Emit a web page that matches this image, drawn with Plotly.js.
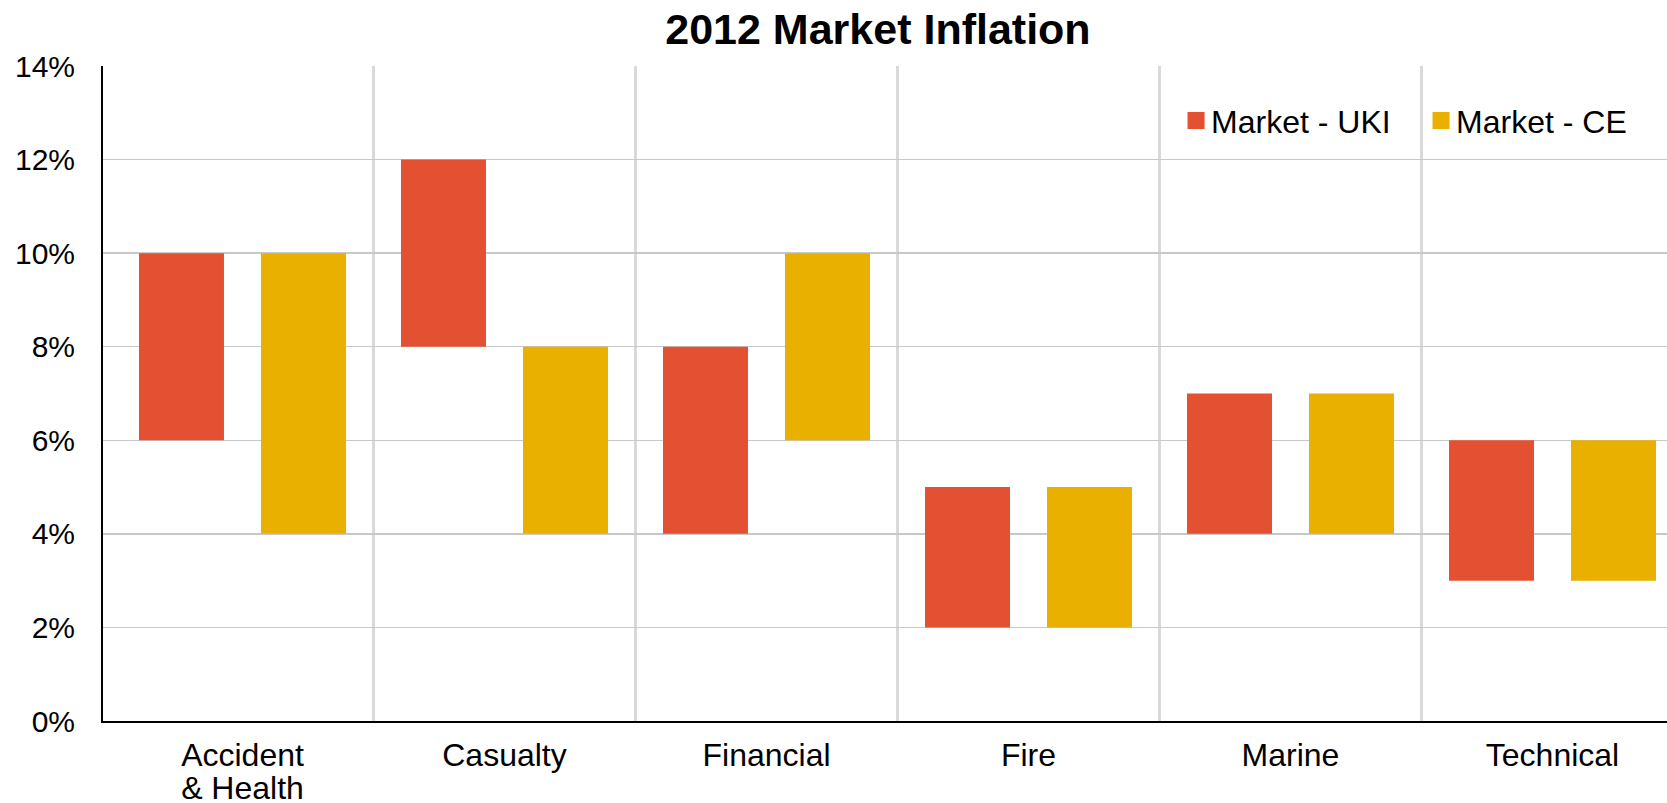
<!DOCTYPE html>
<html>
<head>
<meta charset="utf-8">
<script src="https://cdn.plot.ly/plotly-3.0.1.min.js"></script>
<style>
  html, body { margin: 0; padding: 0; background: #ffffff; }
  #chart { width: 1667px; height: 803px; }
</style>
</head>
<body>
<div id="chart"></div>
<script>
// ---- Data ----
const categories = ["Accident<br>& Health", "Casualty", "Financial", "Fire", "Marine", "Technical"];
const ukiLow  = [6, 8, 4, 2, 4, 3];
const ukiHigh = [10, 12, 8, 5, 7, 6];
const ceLow   = [4, 4, 6, 2, 4, 3];
const ceHigh  = [10, 8, 10, 5, 7, 6];
const yTicks  = [0, 2, 4, 6, 8, 10, 12, 14];
const yTickLabels = ["0%", "2%", "4%", "6%", "8%", "10%", "12%", "14%"];
const seriesNames = ["Market - UKI", "Market - CE"];

// ---- Derived ----
const xPos = categories.map((_, i) => i);
const boundaries = categories.slice(1).map((_, i) => i + 0.5);
const span = (lo, hi) => hi.map((h, i) => h - lo[i]);

const FONT = "Liberation Sans, Arial, sans-serif";

const traces = [
  {
    type: "bar", name: seriesNames[0], x: xPos,
    base: ukiLow, y: span(ukiLow, ukiHigh),
    marker: { color: "#e45132", line: { width: 0 } },
    hoverinfo: "skip"
  },
  {
    type: "bar", name: seriesNames[1], x: xPos,
    base: ceLow, y: span(ceLow, ceHigh),
    marker: { color: "#eab000", line: { width: 0 } },
    hoverinfo: "skip"
  }
];

const layout = {
  width: 1667, height: 803,
  paper_bgcolor: "#ffffff", plot_bgcolor: "#ffffff",
  margin: { l: 103, r: 0, t: 65.5, b: 81.5, pad: 0 },
  font: { family: FONT, size: 30, color: "#000000" },
  title: {
    text: "<b>2012 Market Inflation</b>",
    font: { family: FONT, size: 43, color: "#000000" },
    x: 0.4955, xref: "paper", xanchor: "center",
    y: 1 - 29 / 803, yref: "container", yanchor: "middle"
  },
  barmode: "group",
  bargap: 0.0687,
  bargroupgap: 0.3033,
  showlegend: true,
  legend: {
    orientation: "h",
    x: 0.6829, xanchor: "left",
    y: 0.9165, yanchor: "middle",
    font: { family: FONT, size: 32, color: "#000000" },
    bgcolor: "rgba(0,0,0,0)",
    entrywidth: 200,
    traceorder: "normal"
  },
  xaxis: {
    range: [-0.5324, 5.437],
    tickmode: "array",
    tickvals: xPos,
    ticktext: categories,
    ticks: "",
    showgrid: false,
    zeroline: false,
    showline: true, linecolor: "#000000", linewidth: 2,
    ticklabelstandoff: 5,
    tickfont: { family: FONT, size: 32, color: "#000000" },
    minor: {
      tickmode: "array",
      tickvals: boundaries,
      showgrid: true,
      gridcolor: "#d9d9d9",
      gridwidth: 2.5,
      ticks: ""
    },
    fixedrange: true
  },
  yaxis: {
    range: [0, 14],
    tickmode: "array",
    tickvals: yTicks,
    ticktext: yTickLabels,
    ticks: "",
    showgrid: true, gridcolor: "#c8c8c8", gridwidth: 1.5,
    zeroline: false,
    showline: true, linecolor: "#000000", linewidth: 2,
    ticklabelstandoff: 20,
    tickfont: { family: FONT, size: 30, color: "#000000" },
    fixedrange: true
  }
};

Plotly.newPlot("chart", traces, layout, { displayModeBar: false, staticPlot: true }).then(gd => {
  // Enlarge legend swatches (17px squares as in the reference), keeping their centre.
  gd.querySelectorAll(".legend .legendpoints path").forEach(p => {
    const t = p.getAttribute("transform") || "";
    p.setAttribute("transform", t + " translate(5,0) scale(1.42)");
  });
  gd.querySelectorAll(".legend .scrollbox").forEach(s => s.removeAttribute("clip-path"));
  // Tighter line spacing for two-line category labels (as in the reference).
  gd.querySelectorAll(".xtick text tspan.line").forEach(t => {
    const dy = parseFloat(t.getAttribute("dy") || "0");
    if (dy > 0) t.setAttribute("dy", (dy * 1.03 / 1.3).toFixed(3) + "em");
  });
});
</script>
</body>
</html>
